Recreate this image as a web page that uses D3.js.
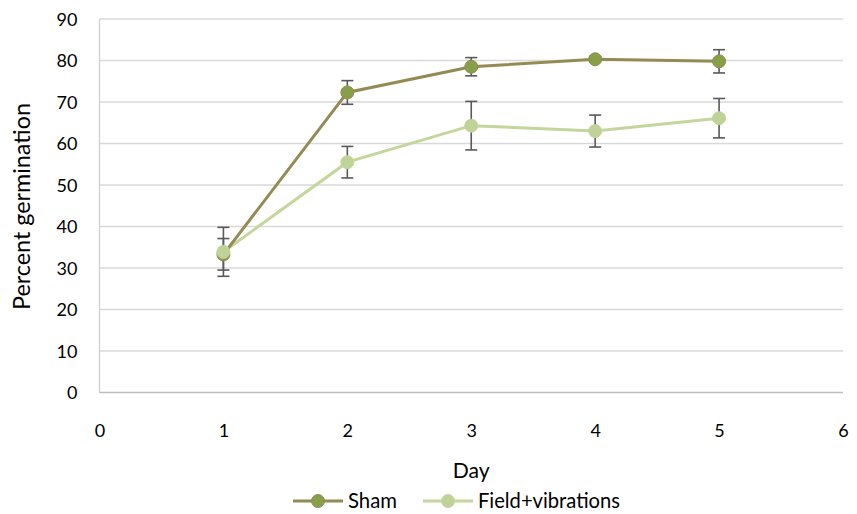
<!DOCTYPE html>
<html><head><meta charset="utf-8">
<script src="https://cdn.jsdelivr.net/npm/d3@7"></script>
<style>body{margin:0;background:#fff}svg{display:block}text{font-family:Lato,"Open Sans",sans-serif;fill:#000}</style>
</head><body><svg id="c" width="857" height="514"></svg>
<script>
const days = [1, 2, 3, 4, 5];
const shamValues = [33.3, 72.3, 78.5, 80.3, 79.8];
const shamErrors = [3.8, 2.85, 2.2, 0.7, 2.8];
const fieldValues = [33.9, 55.5, 64.3, 63.0, 66.1];
const fieldErrors = [5.9, 3.8, 5.85, 3.85, 4.75];
const xTicks = [0, 1, 2, 3, 4, 5, 6];
const yTicks = [0, 10, 20, 30, 40, 50, 60, 70, 80, 90];
const seriesNames = ["Sham", "Field+vibrations"];

const svg = d3.select("#c");
const x = d3.scaleLinear().domain([0, 6]).range([99.5, 843]);
const y = d3.scaleLinear().domain([0, 90]).range([392.5, 19]);

function fit(sel, target) {
  const w = sel.node().getComputedTextLength();
  const fs = parseFloat(sel.style("font-size"));
  sel.style("font-size", (fs * target / w).toFixed(2) + "px");
}

// gridlines
svg.append("g").selectAll("line").data(yTicks.filter(d => d > 0)).join("line")
  .attr("x1", x(0)).attr("x2", x(6)).attr("y1", d => y(d)).attr("y2", d => y(d))
  .attr("stroke", "#d9d9d9").attr("stroke-width", 1.3);
svg.append("line").attr("x1", x(0)).attr("x2", x(0)).attr("y1", y(0)).attr("y2", y(90))
  .attr("stroke", "#d0d0d0").attr("stroke-width", 1.3);
svg.append("line").attr("x1", x(0)).attr("x2", x(6)).attr("y1", y(0)).attr("y2", y(0))
  .attr("stroke", "#bfbfbf").attr("stroke-width", 1.3);

// tick labels
const xAxis = d3.axisBottom(x).tickValues(xTicks).tickFormat(d3.format("d")).tickSize(0).tickPadding(0);
const gx = svg.append("g").attr("transform", `translate(0,${y(0)})`).call(xAxis);
gx.select(".domain").remove();
gx.selectAll("text").attr("dy", null).attr("y", 44).style("font-size", "18px").style("font-family", "Lato,'Open Sans',sans-serif").attr("fill", "#000");

const yAxis = d3.axisLeft(y).tickValues(yTicks).tickFormat(d3.format("d")).tickSize(0).tickPadding(0);
const gy = svg.append("g").attr("transform", `translate(${x(0)},0)`).call(yAxis);
gy.select(".domain").remove();
gy.selectAll("text").attr("x", -22).attr("dy", "0.35em").style("font-size", "18px").style("font-family", "Lato,'Open Sans',sans-serif").attr("fill", "#000");

// axis titles
const dayT = svg.append("text").attr("x", x(3)).attr("y", 478).attr("text-anchor", "middle").style("font-size", "20px").text("Day");
fit(dayT, 37);
const yT = svg.append("text").attr("transform", `translate(30,206.5) rotate(-90)`)
  .attr("text-anchor", "middle").style("font-size", "20px").text("Percent germination");
fit(yT, 207);

const series = [
  {name: seriesNames[0], values: shamValues, errors: shamErrors, line: "#948a54", fill: "#86a04a", stroke: "#948a54"},
  {name: seriesNames[1], values: fieldValues, errors: fieldErrors, line: "#c3d69b", fill: "#bfd398", stroke: "#c3d69b"}
];

// error bars
series.forEach(s => {
  const g = svg.append("g").attr("stroke", "#595959").attr("stroke-width", 1.6);
  days.forEach((d, i) => {
    const v = s.values[i], e = s.errors[i];
    g.append("line").attr("x1", x(d)).attr("x2", x(d)).attr("y1", y(v + e)).attr("y2", y(v - e));
    g.append("line").attr("x1", x(d) - 6).attr("x2", x(d) + 6).attr("y1", y(v + e)).attr("y2", y(v + e));
    g.append("line").attr("x1", x(d) - 6).attr("x2", x(d) + 6).attr("y1", y(v - e)).attr("y2", y(v - e));
  });
});

const line = d3.line().x((d, i) => x(days[i])).y(d => y(d));
[...series].reverse().forEach(s => {
  svg.append("path").datum(s.values).attr("d", line).attr("fill", "none")
    .attr("stroke", s.line).attr("stroke-width", 3);
});
series.forEach(s => {
  svg.append("g").selectAll("circle").data(s.values).join("circle")
    .attr("cx", (d, i) => x(days[i])).attr("cy", d => y(d)).attr("r", 6.5)
    .attr("fill", s.fill).attr("stroke", s.stroke).attr("stroke-width", 1);
});

// legend
const legX = [293, 423];
const legW = [49, 142];
series.forEach((s, i) => {
  const g = svg.append("g").attr("transform", `translate(${legX[i]},501)`);
  g.append("line").attr("x1", 0).attr("x2", 50).attr("stroke", s.line).attr("stroke-width", 3);
  g.append("circle").attr("cx", 25).attr("r", 6.5).attr("fill", s.fill).attr("stroke", s.stroke);
  const t = g.append("text").attr("x", 55).attr("dy", "0.35em").style("font-size", "18px").text(s.name);
  fit(t, legW[i]);
});
</script></body></html>
